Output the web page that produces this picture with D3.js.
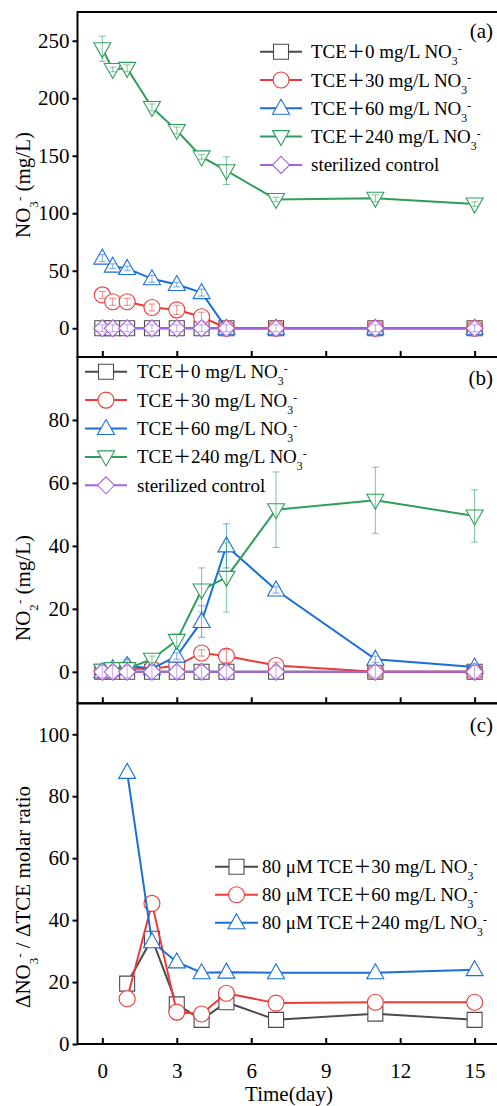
<html>
	<head>
		<title>Nitrate / nitrite panels</title>
		<style>
			body { margin: 0; background: #ffffff; }
		</style>
	</head>
	<body>
		<div id="chart"></div>
		<script src="https://cdn.jsdelivr.net/npm/d3@7"></script>
		<script>
			(function(){
				"use strict";

				// sampling days
				var days = [0, 0.42, 1, 2, 3, 4, 5, 7, 11, 15];
				var ratioDays = [1, 2, 3, 4, 5, 7, 11, 15];
				var xTicks = [0, 3, 6, 9, 12, 15];

				// (a) nitrate, mg/L
				var no3_0 = [0, 0, 0, 0, 0, 0, 0, 0, 0, 0];
				var no3_30 = [29, 23, 23, 18, 16, 10, 0, 0, 0, 0];
				var no3_60 = [61, 54, 52, 43, 38, 31, 0, 0, 0, 0];
				var no3_240 = [243, 225, 226, 192, 172, 149, 137, 112, 113, 108];
				var no3_ctrl = [0, 0, 0, 0, 0, 0, 0, 0, 0, 0];
				var no3_0err = [3, 3, 3, 3, 3, 3, 2, 2, 2, 2];
				var no3_30err = [3, 3, 3, 3, 4, 4, 2, 2, 2, 2];
				var no3_60err = [3, 2, 2, 3, 2, 3, 3, 2, 2, 2];
				var no3_240err = [11, 2, 3, 3, 3, 2, 12, 2, 3, 2];
				var no3_ctrlErr = [3, 3, 3, 3, 3, 3, 3, 3, 3, 3];
				var no3Ticks = [0, 50, 100, 150, 200, 250];

				// (b) nitrite, mg/L
				var no2_0 = [0, 0, 0, 0, 0, 0, 0, 0, 0, 0];
				var no2_30 = [0, 0.5, 1, 1, 2, 6, 5, 2, 0, 0];
				var no2_60 = [0, 1, 2, 1, 5, 16, 40, 26, 4, 1.5];
				var no2_240 = [0.5, 1, 1, 4, 10, 26, 30, 51.5, 54.5, 49.5];
				var no2_ctrl = [0, 0, 0, 0, 0, 0, 0, 0, 0, 0];
				var no2_0err = [1, 1, 1, 1, 1, 1, 1, 1, 1, 1];
				var no2_30err = [1, 1, 1, 1, 1, 1, 2, 1, 1, 1];
				var no2_60err = [1, 1.5, 2, 2, 1, 5, 7, 1, 1, 1];
				var no2_240err = [1, 1, 1, 1, 2, 7, 11, 12, 10.5, 8.3];
				var no2_ctrlErr = [2, 2, 2, 2, 2, 2, 2, 2, 2, 2];
				var no2Ticks = [0, 20, 40, 60, 80];

				// (c) delta NO3- / delta TCE molar ratio
				var ratio30 = [19.5, 34, 12.8, 7.8, 13.5, 7.8, 9.8, 7.8];
				var ratio60 = [14.6, 45.4, 10.3, 9.7, 16.4, 13.2, 13.5, 13.5];
				var ratio240 = [87.7, 33, 26.5, 23, 23.2, 23, 23, 24];
				var ratioTicks = [0, 20, 40, 60, 80, 100];

				// legend names, split around the full-width plus
				var names = [["TCE", "0 mg/L NO"], ["TCE", "30 mg/L NO"], ["TCE", "60 mg/L NO"], ["TCE", "240 mg/L NO"], ["sterilized control"]];
				var ratioNames = [["80 \u03BCM TCE", "30 mg/L NO"], ["80 \u03BCM TCE", "60 mg/L NO"], ["80 \u03BCM TCE", "240 mg/L NO"]];

				var colors = {
					black: "#4a4a4a",
					red: "#ea3b3b",
					blue: "#1b6ed8",
					green: "#2f9e5c",
					purple: "#a463e0"
				};

				var SERIF = "'Liberation Serif', 'Times New Roman', serif";
				var CJK = "'Noto Sans CJK SC', sans-serif";

				// marker paths
				var shapes = {
					square: "M-7.5,-7.5h15v15h-15z",
					circle: "M-8,0a8,8 0 1,0 16,0a8,8 0 1,0 -16,0z",
					up: "M0,-9L8.5,6L-8.5,6z",
					down: "M0,9L8.5,-6L-8.5,-6z",
					diamond: "M0,-8.5L8.5,0L0,8.5L-8.5,0z"
				};

				var W = 497, H = 1106;
				var left = 77.5, right = 77.5 + 17 * 24.82;

				var svg = d3.select("#chart").append("svg")
					.attr("width", W)
					.attr("height", H)
					.style("font-family", SERIF);

				var x = d3.scaleLinear().domain([-1, 16]).range([left, right]);

				var panels = [
					{ top: 12, bottom: 357, domain: [-25, 275], ticks: no3Ticks, tag: "(a)", tagY: 38 },
					{ top: 357, bottom: 703.3, domain: [-10, 100], ticks: no2Ticks, tag: "(b)", tagY: 385 },
					{ top: 703.3, bottom: 1044, domain: [0, 110], ticks: ratioTicks, tag: "(c)", tagY: 732 }
				];

				panels.forEach(function(p){
					p.y = d3.scaleLinear().domain(p.domain).range([p.bottom, p.top]);
				});

				// write "NO3-" style text as tspans
				function chem(sel, parts){
					parts.forEach(function(pt){
						var t = sel.append("tspan").text(pt[0]);
						if (pt[1] === "sub") t.attr("baseline-shift", "sub").attr("font-size", "0.62em");
						if (pt[1] === "sup") t.attr("baseline-shift", "super").attr("font-size", "0.62em");
						if (pt[1] === "cjk") t.style("font-family", CJK).attr("font-size", "0.95em");
					});
				}

				function drawAxes(p, showX){
					var g = svg.append("g");

					// y axis, outward ticks
					var yAxis = d3.axisLeft(p.y).tickValues(p.ticks).tickSize(5).tickPadding(3);
					var yg = g.append("g").attr("transform", "translate(" + left + ",0)").call(yAxis);
					yg.attr("font-family", null);
					yg.select(".domain").remove();
					yg.selectAll("line").attr("stroke", "#000").attr("stroke-width", 2);
					yg.selectAll("text").attr("font-size", 21).style("font-family", SERIF);

					// x axis, inward ticks
					var xAxis = d3.axisBottom(x).tickValues(xTicks).tickSize(-6).tickPadding(10);
					var xg = g.append("g").attr("transform", "translate(0," + p.bottom + ")").call(xAxis);
					xg.attr("font-family", null);
					xg.select(".domain").remove();
					xg.selectAll("line").attr("stroke", "#000").attr("stroke-width", 2);
					xg.selectAll("text")
						.attr("font-size", 21)
						.attr("dy", "1.15em")
						.style("font-family", SERIF)
						.style("display", showX ? null : "none");

					// frame
					g.append("rect")
						.attr("x", left)
						.attr("y", p.top)
						.attr("width", right - left)
						.attr("height", p.bottom - p.top)
						.attr("fill", "none")
						.attr("stroke", "#000")
						.attr("stroke-width", 2);

					g.append("text")
						.attr("x", 493)
						.attr("y", p.tagY)
						.attr("text-anchor", "end")
						.attr("font-size", 21)
						.style("font-family", SERIF)
						.text(p.tag);
				}

				function drawSeries(p, xs, ys, errs, color, shape){
					var g = svg.append("g");
					var pts = xs.map(function(d, i){ return [d, ys[i], errs ? errs[i] : 0]; });

					var line = d3.line()
						.x(function(d){ return x(d[0]); })
						.y(function(d){ return p.y(d[1]); });

					g.append("path")
						.datum(pts)
						.attr("d", line)
						.attr("fill", "none")
						.attr("stroke", color)
						.attr("stroke-width", 2);

					g.selectAll(".mk").data(pts).enter().append("path")
						.attr("class", "mk")
						.attr("d", shapes[shape])
						.attr("transform", function(d){ return "translate(" + x(d[0]) + "," + p.y(d[1]) + ")"; })
						.attr("fill", "#fff")
						.attr("stroke", color)
						.attr("stroke-width", 1.1);

					if (errs) {
						var eb = g.selectAll(".eb").data(pts).enter().append("g")
							.attr("stroke", color)
							.attr("stroke-opacity", 0.6)
							.attr("stroke-width", 1);
						eb.append("line")
							.attr("x1", function(d){ return x(d[0]); })
							.attr("x2", function(d){ return x(d[0]); })
							.attr("y1", function(d){ return p.y(d[1] - d[2]); })
							.attr("y2", function(d){ return p.y(d[1] + d[2]); });
						[-1, 1].forEach(function(s){
							eb.append("line")
								.attr("x1", function(d){ return x(d[0]) - 3.5; })
								.attr("x2", function(d){ return x(d[0]) + 3.5; })
								.attr("y1", function(d){ return p.y(d[1] + s * d[2]); })
								.attr("y2", function(d){ return p.y(d[1] + s * d[2]); });
						});
					}
				}

				function drawLegend(items, x0, y0, step, lineLen, textGap){
					var g = svg.append("g");
					items.forEach(function(it, i){
						var yy = y0 + i * step;
						g.append("line")
							.attr("x1", x0).attr("x2", x0 + lineLen)
							.attr("y1", yy).attr("y2", yy)
							.attr("stroke", it.color).attr("stroke-width", 2);
						g.append("path")
							.attr("d", shapes[it.shape])
							.attr("transform", "translate(" + (x0 + lineLen / 2) + "," + yy + ")")
							.attr("fill", "#fff")
							.attr("stroke", it.color)
							.attr("stroke-width", 1.1);
						var t = g.append("text")
							.attr("x", x0 + lineLen + textGap)
							.attr("y", yy + 6.5)
							.attr("font-size", 19)
							.style("font-family", SERIF);
						if (it.name.length > 1) chem(t, [[it.name[0]], ["\uFF0B", "cjk"], [it.name[1]], ["3", "sub"], ["-", "sup"]]);
						else t.text(it.name[0]);
					});
				}

				function yTitle(cy, parts){
					var t = svg.append("text")
						.attr("transform", "translate(30," + cy + ") rotate(-90)")
						.attr("text-anchor", "middle")
						.attr("font-size", 21)
						.style("font-family", SERIF);
					chem(t, parts);
				}

				// ---------- panel (a)
				var pa = panels[0];
				drawAxes(pa, false);
				drawSeries(pa, days, no3_0, no3_0err, colors.black, "square");
				drawSeries(pa, days, no3_30, no3_30err, colors.red, "circle");
				drawSeries(pa, days, no3_60, no3_60err, colors.blue, "up");
				drawSeries(pa, days, no3_240, no3_240err, colors.green, "down");
				drawSeries(pa, days, no3_ctrl, no3_ctrlErr, colors.purple, "diamond");

				var legendItems = [
					{ name: names[0], color: colors.black, shape: "square" },
					{ name: names[1], color: colors.red, shape: "circle" },
					{ name: names[2], color: colors.blue, shape: "up" },
					{ name: names[3], color: colors.green, shape: "down" },
					{ name: names[4], color: colors.purple, shape: "diamond" }
				];
				drawLegend(legendItems, 260, 51.7, 28.3, 42, 9);
				yTitle(185, [["NO"], ["3", "sub"], ["-", "sup"], [" (mg/L)"]]);

				// ---------- panel (b)
				var pb = panels[1];
				drawAxes(pb, false);
				drawSeries(pb, days, no2_0, no2_0err, colors.black, "square");
				drawSeries(pb, days, no2_30, no2_30err, colors.red, "circle");
				drawSeries(pb, days, no2_60, no2_60err, colors.blue, "up");
				drawSeries(pb, days, no2_240, no2_240err, colors.green, "down");
				drawSeries(pb, days, no2_ctrl, no2_ctrlErr, colors.purple, "diamond");
				drawLegend(legendItems, 85, 371.7, 28.4, 42, 10);
				yTitle(588, [["NO"], ["2", "sub"], ["-", "sup"], [" (mg/L)"]]);

				// ---------- panel (c)
				var pc = panels[2];
				drawAxes(pc, true);
				drawSeries(pc, ratioDays, ratio30, null, colors.black, "square");
				drawSeries(pc, ratioDays, ratio60, null, colors.red, "circle");
				drawSeries(pc, ratioDays, ratio240, null, colors.blue, "up");
				drawLegend([
					{ name: ratioNames[0], color: colors.black, shape: "square" },
					{ name: ratioNames[1], color: colors.red, shape: "circle" },
					{ name: ratioNames[2], color: colors.blue, shape: "up" }
				], 215, 866.7, 28, 43, 4);
				yTitle(897, [["\u0394NO"], ["3", "sub"], ["-", "sup"], [" / \u0394TCE molar ratio"]]);

				svg.append("text")
					.attr("x", 289)
					.attr("y", 1101)
					.attr("text-anchor", "middle")
					.attr("font-size", 21)
					.style("font-family", SERIF)
					.text("Time(day)");

			})();
		</script>
	</body>
</html>
